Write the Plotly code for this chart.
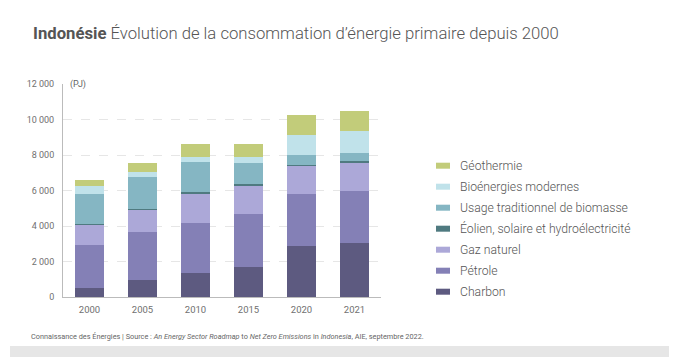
import plotly.graph_objects as go

OFF = 8  # default page body margin
W, H = 677 - OFF, 357 - OFF
years = ["2000", "2005", "2010", "2015", "2020", "2021"]

charbon = [510, 940, 1360, 1680, 2880, 3030]
petrole = [2430, 2730, 2820, 3010, 2905, 2960]
gaz = [1130, 1250, 1640, 1585, 1600, 1580]
eolien = [50, 50, 95, 75, 75, 120]
trad = [1690, 1810, 1715, 1190, 550, 430]
bio = [420, 285, 280, 340, 1090, 1220]
geo = [355, 490, 720, 750, 1150, 1150]

names = ["Charbon", "Pétrole", "Gaz naturel", "Éolien, solaire et hydroélectricité",
         "Usage traditionnel de biomasse", "Bioénergies modernes", "Géothermie"]
colors = ["#5d5a80", "#8480b6", "#aca8d8", "#4f7a80", "#85b6c3", "#c0e2ea", "#c2cc7a"]
series = [charbon, petrole, gaz, eolien, trad, bio, geo]

y_ticks = [0, 2000, 4000, 6000, 8000, 10000, 12000]
y_ticklabels = ["0", "2 000", "4 000", "6 000", "8 000", "10 000", "12 000"]

# plot area in page pixels
PL, PR, PT, PB = 63, 381, 84, 297
L, T = PL - OFF, PT - OFF
R, B = W - (PR - OFF), H - (PB - OFF)
pw, ph = PR - PL, PB - PT

def px(x):
    return (x - PL) / pw

def py(y):
    return (PB - y) / ph

fig = go.Figure()
for name, vals, col in zip(names, series, colors):
    fig.add_trace(go.Bar(x=years, y=vals, name=name, marker=dict(color=col, line=dict(width=0)),
                         showlegend=False))

font = "Roboto"
fig.update_layout(
    width=W, height=H, barmode="stack", bargap=0.44,
    margin=dict(l=L, r=R, t=T, b=B),
    paper_bgcolor="white", plot_bgcolor="white",
    font=dict(family=font, color="#666666", size=9),
    xaxis=dict(showline=True, linecolor="#bbbbbb", linewidth=1, ticks="", ticklabelstandoff=4,
               tickfont=dict(size=9.5, color="#707070")),
    yaxis=dict(range=[0, 12000], tickvals=y_ticks, ticktext=y_ticklabels, showgrid=True,
               gridcolor="#e6e6e6", griddash="dash", gridwidth=1, zeroline=False,
               showline=True, linecolor="#bbbbbb", linewidth=1, ticks="", ticklabelstandoff=6,
               tickfont=dict(size=9, color="#707070")),
)

ann = []
ann.append(dict(x=px(31), y=py(33), xref="paper", yref="paper", xanchor="left", yanchor="middle",
                text="<b>Indonésie</b> Évolution de la consommation d’énergie primaire depuis 2000",
                showarrow=False, font=dict(family=font, size=16.7, color="#555555", weight=300)))
ann.append(dict(x=px(68), y=py(85), xref="paper", yref="paper", xanchor="left", yanchor="middle",
                text="(PJ)", showarrow=False, font=dict(family=font, size=9, color="#666")))
ann.append(dict(x=px(29), y=py(336), xref="paper", yref="paper", xanchor="left", yanchor="middle",
                text="Connaissance des Énergies | Source : <i>An Energy Sector Roadmap</i> to <i>Net Zero Emissions</i> in <i>Indonesia</i>, AIE, septembre 2022.",
                showarrow=False, font=dict(family="Liberation Sans Narrow, Roboto", size=7.3, color="#666")))

shapes = []
leg_y0 = 165.7
for i, (name, col) in enumerate(zip(names[::-1], colors[::-1])):
    yc = leg_y0 + i * 21
    shapes.append(dict(type="rect", xref="paper", yref="paper", x0=px(436), x1=px(450),
                       y0=py(yc - 3), y1=py(yc + 3), fillcolor=col, line=dict(width=0)))
    ann.append(dict(x=px(458), y=py(yc), xref="paper", yref="paper", xanchor="left", yanchor="middle",
                    text=name, showarrow=False, font=dict(family=font, size=12.2, color="#555", weight=300)))

shapes.append(dict(type="rect", xref="paper", yref="paper", x0=px(10), x1=px(690), y0=py(346), y1=py(370),
                   fillcolor="#e6e6e6", line=dict(width=0), layer="below"))

fig.update_layout(annotations=ann, shapes=shapes)
fig.write_html("out.html")
